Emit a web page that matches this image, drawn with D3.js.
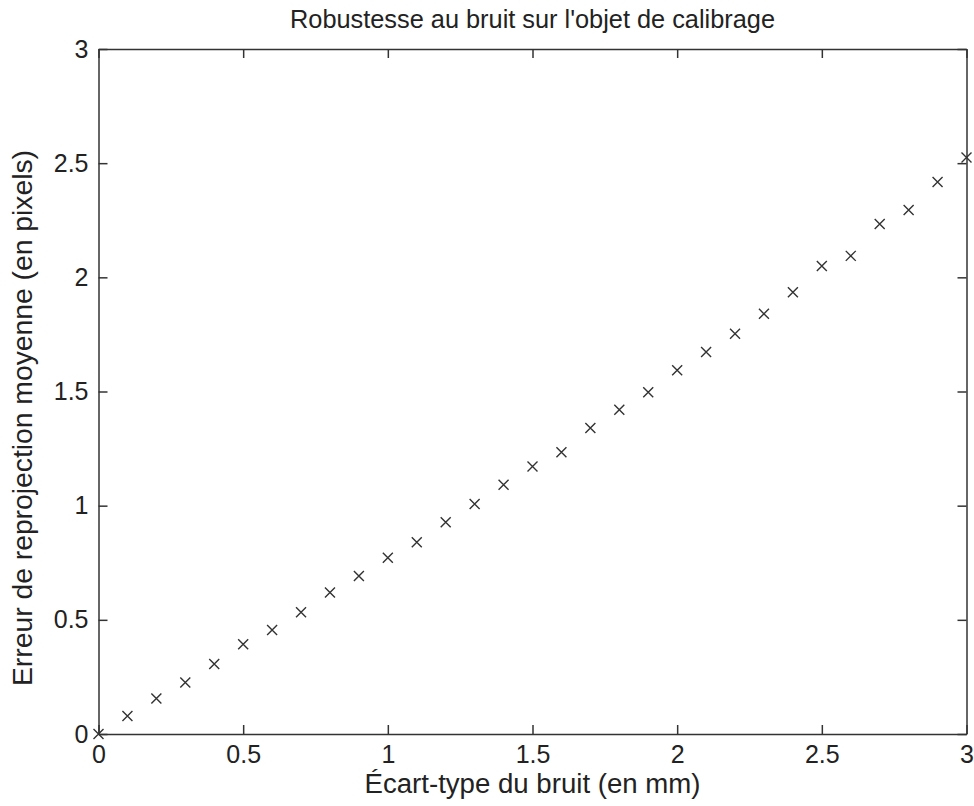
<!DOCTYPE html>
<html>
<head>
<meta charset="utf-8">
<script src="https://cdn.jsdelivr.net/npm/d3@7"></script>
<style>
  html, body { margin: 0; padding: 0; background: #fff; }
  svg { display: block; }
  text { font-family: "Liberation Sans", Arial, sans-serif; fill: #222; }
</style>
</head>
<body>
<svg id="chart" width="974" height="806"></svg>
<script>
// Noise standard deviation (mm)
const noiseStd = [0, 0.1, 0.2, 0.3, 0.4, 0.5, 0.6, 0.7, 0.8, 0.9,
                  1.0, 1.1, 1.2, 1.3, 1.4, 1.5, 1.6, 1.7, 1.8, 1.9,
                  2.0, 2.1, 2.2, 2.3, 2.4, 2.5, 2.6, 2.7, 2.8, 2.9, 3.0];
// Mean reprojection error (pixels)
const reprojError = [0, 0.079, 0.156, 0.226, 0.307, 0.393, 0.455, 0.533, 0.620, 0.692,
                     0.772, 0.840, 0.927, 1.007, 1.092, 1.172, 1.234, 1.340, 1.420, 1.497,
                     1.593, 1.673, 1.753, 1.840, 1.935, 2.050, 2.094, 2.234, 2.295, 2.418, 2.525];
const xTicks = [0, 0.5, 1, 1.5, 2, 2.5, 3];
const yTicks = [0, 0.5, 1, 1.5, 2, 2.5, 3];
const titleText = "Robustesse au bruit sur l'objet de calibrage";
const xLabelText = "Écart-type du bruit (en mm)";
const yLabelText = "Erreur de reprojection moyenne (en pixels)";

const svg = d3.select("#chart");
const plotLeft = 98.5, plotRight = 966.5, plotTop = 49, plotBottom = 734;

const x = d3.scaleLinear().domain([0, 3]).range([plotLeft, plotRight]);
const y = d3.scaleLinear().domain([0, 3]).range([plotBottom, plotTop]);
const fmt = d => String(d);
const axisColor = "#333";
const tickLen = 9;

function styleAxis(g) {
  g.selectAll(".domain").attr("stroke", axisColor).attr("stroke-width", 1.5);
  g.selectAll(".tick line").attr("stroke", axisColor).attr("stroke-width", 1.5);
  g.selectAll(".tick text").attr("font-size", 25).attr("font-family", "Liberation Sans, Arial, sans-serif").attr("fill", "#222");
}

// Bottom axis with labels
svg.append("g")
  .attr("transform", `translate(0,${plotBottom})`)
  .call(d3.axisBottom(x).tickValues(xTicks).tickFormat(fmt)
    .tickSizeInner(-tickLen).tickSizeOuter(0).tickPadding(11))
  .call(styleAxis);

// Top axis, ticks only
svg.append("g")
  .attr("transform", `translate(0,${plotTop})`)
  .call(d3.axisTop(x).tickValues(xTicks).tickFormat("")
    .tickSizeInner(-tickLen).tickSizeOuter(0))
  .call(styleAxis);

// Left axis with labels
svg.append("g")
  .attr("transform", `translate(${plotLeft},0)`)
  .call(d3.axisLeft(y).tickValues(yTicks).tickFormat(fmt)
    .tickSizeInner(-tickLen).tickSizeOuter(0).tickPadding(10))
  .call(styleAxis);

// Right axis, ticks only
svg.append("g")
  .attr("transform", `translate(${plotRight},0)`)
  .call(d3.axisRight(y).tickValues(yTicks).tickFormat("")
    .tickSizeInner(-tickLen).tickSizeOuter(0))
  .call(styleAxis);

// Cross markers
const data = noiseStd.map((v, i) => ({ s: v, e: reprojError[i] }));
const r = 5;
svg.append("g")
  .selectAll("path")
  .data(data)
  .join("path")
  .attr("d", d => {
    const cx = x(d.s), cy = y(d.e);
    return `M${cx - r},${cy - r}L${cx + r},${cy + r}M${cx - r},${cy + r}L${cx + r},${cy - r}`;
  })
  .attr("fill", "none")
  .attr("stroke", "#333")
  .attr("stroke-width", 1.4);

// Title
svg.append("text")
  .attr("x", (plotLeft + plotRight) / 2)
  .attr("y", 28)
  .attr("text-anchor", "middle")
  .attr("font-size", 25)
  .attr("textLength", 485)
  .attr("lengthAdjust", "spacingAndGlyphs")
  .text(titleText);

// X axis label
svg.append("text")
  .attr("x", (plotLeft + plotRight) / 2)
  .attr("y", 793)
  .attr("text-anchor", "middle")
  .attr("font-size", 27)
  .attr("textLength", 336)
  .attr("lengthAdjust", "spacingAndGlyphs")
  .text(xLabelText);

// Y axis label
svg.append("text")
  .attr("transform", `translate(32,418) rotate(-90)`)
  .attr("text-anchor", "middle")
  .attr("font-size", 27)
  .attr("textLength", 536)
  .attr("lengthAdjust", "spacingAndGlyphs")
  .text(yLabelText);
</script>
</body>
</html>
